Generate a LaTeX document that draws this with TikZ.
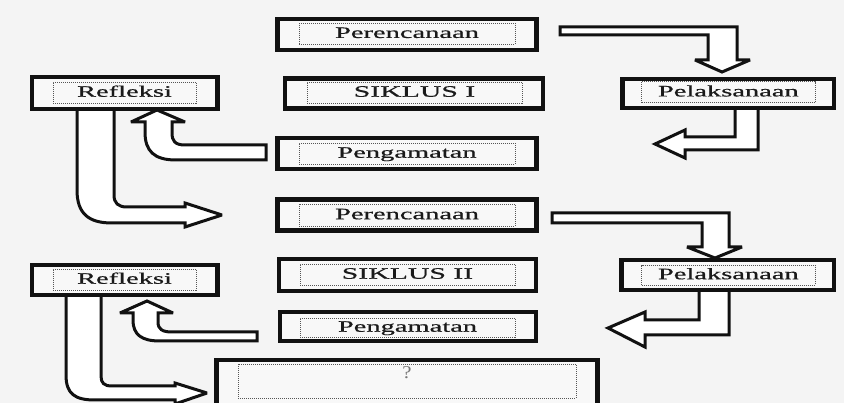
\documentclass[tikz,border=0pt]{standalone}
\usepackage{fontspec}
\setmainfont{Liberation Serif}
\newfontfamily\lblfont[FakeBold=0.5]{Liberation Serif}
\usepackage{graphicx}
\pgfdeclarelayer{back}
\pgfsetlayers{back,main}
\definecolor{bgc}{HTML}{F4F4F4}
\definecolor{boxfill}{HTML}{F8F8F8}
\definecolor{ink}{HTML}{111111}
\definecolor{txt}{HTML}{1A1A1A}
\definecolor{dotc}{HTML}{555555}
\tikzset{
  outerbox/.style={draw=ink, line width=4.2pt, fill=boxfill, rectangle, inner sep=0pt, outer sep=0pt},
  innerbox/.style={draw=dotc, line width=0.9pt, dash pattern=on 1pt off 1pt, rectangle, inner sep=0pt, outer sep=0pt,
    text=txt, font=\lblfont\fontsize{16}{16}\selectfont, text height=11pt, text depth=2.5pt},
  blockarrow/.style={draw=ink, line width=3pt, fill=white, line join=miter, miter limit=3},
}
\newcommand{\wide}[1]{\scalebox{1.78}[1]{#1}}
\newcommand{\wider}[1]{\scalebox{1.86}[1]{#1}}
\begin{document}
\begin{tikzpicture}[x=1pt,y=-1pt]
\useasboundingbox (0,0) rectangle (844,403);
\clip (0,0) rectangle (844,403);

% ---- boxes ----
\node[outerbox, minimum width=259pt, minimum height=31pt] (p1) at (407,34.5) {};
\node[innerbox, minimum width=216pt, minimum height=20.7pt] (p1t) at (407,33.7) {\wide{Perencanaan}};

\node[outerbox, minimum width=258pt, minimum height=30pt] (s1) at (414,93.5) {};
\node[innerbox, minimum width=215pt, minimum height=21pt] (s1t) at (414.5,92.5) {\wider{SIKLUS I}};

\node[outerbox, minimum width=259pt, minimum height=31pt] (g1) at (407,153.5) {};
\node[innerbox, minimum width=216pt, minimum height=21pt] (g1t) at (407,153.5) {\wide{Pengamatan}};

\node[outerbox, minimum width=259pt, minimum height=31pt] (p2) at (407,215) {};
\node[innerbox, minimum width=216pt, minimum height=22pt] (p2t) at (407,215) {\wide{Perencanaan}};

\node[outerbox, minimum width=257pt, minimum height=32pt] (s2) at (407.5,275) {};
\node[innerbox, minimum width=215pt, minimum height=21pt] (s2t) at (407.5,274.5) {\wider{SIKLUS II}};

\node[outerbox, minimum width=256pt, minimum height=29pt] (g2) at (408,326.5) {};
\node[innerbox, minimum width=215pt, minimum height=19pt] (g2t) at (407.5,327.5) {\wide{Pengamatan}};

\node[outerbox, minimum width=381pt, minimum height=60pt] (q) at (407,390) {};
\node[innerbox, minimum width=338pt, minimum height=34pt] (qin) at (407,381) {};
\node[anchor=base, text=txt!60, font=\fontsize{18}{18}\selectfont, inner sep=0pt] (qt) at (407,378.5) {\scalebox{1.15}[1]{?}};

\node[outerbox, minimum width=211.5pt, minimum height=29pt] (pl1) at (728.25,93.5) {};
\node[innerbox, minimum width=173.3pt, minimum height=21pt] (pl1t) at (728.35,92.2) {\wide{Pelaksanaan}};

\node[outerbox, minimum width=212.5pt, minimum height=30pt] (pl2) at (727.75,275) {};
\node[innerbox, minimum width=173.3pt, minimum height=20pt] (pl2t) at (728.35,275) {\wide{Pelaksanaan}};

\node[outerbox, minimum width=185.5pt, minimum height=32pt] (r1) at (124.75,93) {};
\node[innerbox, minimum width=143pt, minimum height=21pt] (r1t) at (124.5,92.5) {\wide{Refleksi}};

\node[outerbox, minimum width=185.5pt, minimum height=30pt] (r2) at (124.75,280) {};
\node[innerbox, minimum width=143pt, minimum height=21pt] (r2t) at (124.5,279.5) {\wide{Refleksi}};

% ---- background and block arrows ----
\begin{pgfonlayer}{back}
\fill[bgc] (0,0) rectangle (844,403);

% Perencanaan I -> Pelaksanaan I
\draw[blockarrow] (560,27) -- (737,27) -- (737,60) -- (750,60) -- (722,72) -- (695,60)
  -- (708,60) -- (708,35) -- (560,35) -- cycle;
% Pelaksanaan I -> Pengamatan I
\draw[blockarrow] (735,0 |- pl1.south) -- (735,137) -- (685,137) -- (685,130) -- (655,144)
  -- (685,158) -- (685,150) -- (758,150) -- (758,0 |- pl1.south) -- cycle;
% Pengamatan I -> Refleksi I
\draw[blockarrow] (266,145) -- (185,145) .. controls (175,145) and (172,141) .. (172,133)
  -- (172,122) -- (185,122) -- (157,110) -- (131,122) -- (145,122) -- (145,132)
  .. controls (145,151) and (154,160) .. (176,160) -- (266,160) -- cycle;
% Refleksi I -> Perencanaan II
\draw[blockarrow] (77,0 |- r1.south) -- (77,190) .. controls (77,214) and (89,223) .. (112,223)
  -- (185,223) -- (185,227) -- (222,215) -- (185,203) -- (185,207) -- (127,207)
  .. controls (118,207) and (114,203) .. (114,195) -- (114,0 |- r1.south) -- cycle;
% Perencanaan II -> Pelaksanaan II
\draw[blockarrow] (552,213) -- (729,213) -- (729,247) -- (742,247) -- (715,258) -- (687,247)
  -- (702,247) -- (702,223) -- (552,223) -- cycle;
% Pelaksanaan II -> Pengamatan II
\draw[blockarrow] (699,0 |- pl2.south) -- (699,320) -- (645,320) -- (645,312) -- (608,328)
  -- (645,347) -- (645,335) -- (729,335) -- (729,0 |- pl2.south) -- cycle;
% Pengamatan II -> Refleksi II
\draw[blockarrow] (257,332) -- (172,332) .. controls (162,332) and (158,329) .. (158,322)
  -- (158,313) -- (173,313) -- (147,301) -- (120,313) -- (133,313) -- (133,320)
  .. controls (133,335) and (142,341) .. (160,341) -- (257,341) -- cycle;
% Refleksi II -> ?
\draw[blockarrow] (66,0 |- r2.south) -- (66,375) .. controls (66,394) and (75,400) .. (95,400)
  -- (175,400) -- (175,404) -- (207,393) -- (175,383) -- (175,386) -- (112,386)
  .. controls (104,386) and (101,383) .. (101,376) -- (101,0 |- r2.south) -- cycle;
\end{pgfonlayer}
\end{tikzpicture}
\end{document}
